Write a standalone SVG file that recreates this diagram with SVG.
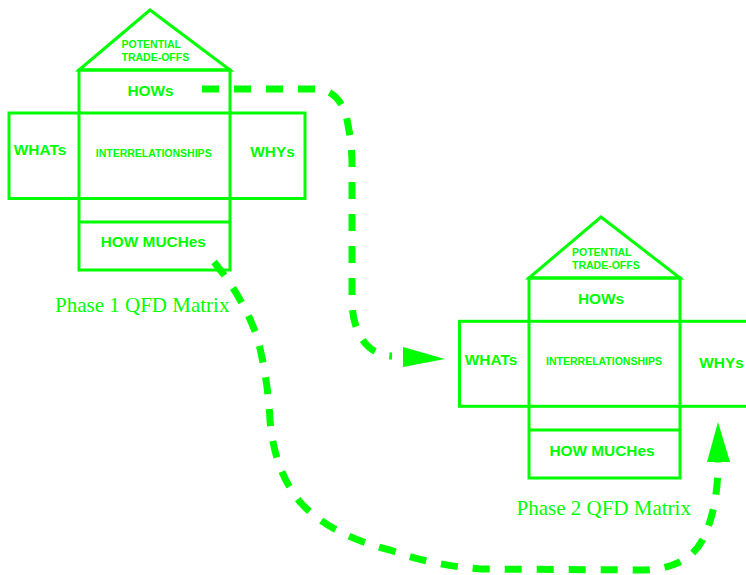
<svg xmlns="http://www.w3.org/2000/svg" width="746" height="575" viewBox="0 0 746 575">
<style>
.box{fill:none;stroke:#00ff00;stroke-width:3}
.t{font-family:"Liberation Sans",Arial,sans-serif;font-weight:bold;fill:#00ff00}
.big{font-size:15.4px;text-anchor:middle}
.sm{font-size:10.5px}
.cap{font-family:"Liberation Serif","Times New Roman",serif;font-size:21px;fill:#00ff00}
.conn{fill:none;stroke:#00ff00;stroke-width:7;stroke-dasharray:17 15}
.head{fill:#00ff00}
</style>
<rect width="746" height="575" fill="#ffffff"/>
<g id="phase1">
  <polygon class="box" points="79,70 150,10 230,70"/>
  <rect class="box" x="79" y="70" width="151" height="200"/>
  <rect class="box" x="9" y="113" width="296" height="85.5"/>
  <line class="box" x1="79" y1="222" x2="230" y2="222"/>
  <text class="t sm" x="121.5" y="47.7">POTENTIAL</text>
  <text class="t sm" x="121.5" y="60.7">TRADE-OFFS</text>
  <text class="t big" x="150.5" y="95.7">HOWs</text>
  <text class="t big" x="40" y="155">WHATs</text>
  <text class="t sm" x="153.7" y="156.7" text-anchor="middle">INTERRELATIONSHIPS</text>
  <text class="t big" x="272.5" y="156.5">WHYs</text>
  <text class="t big" x="153.3" y="247.3">HOW MUCHes</text>
  <text class="cap" x="55" y="311.7">Phase 1 QFD Matrix</text>
</g>
<g id="phase2">
  <polygon class="box" points="529,278 601,217 680,278"/>
  <rect class="box" x="529" y="278" width="151" height="200"/>
  <rect class="box" x="459.5" y="321.3" width="296" height="85"/>
  <line class="box" x1="529" y1="430" x2="680" y2="430"/>
  <text class="t sm" x="572" y="255.7">POTENTIAL</text>
  <text class="t sm" x="572" y="268.7">TRADE-OFFS</text>
  <text class="t big" x="601" y="303.8">HOWs</text>
  <text class="t big" x="491" y="365">WHATs</text>
  <text class="t sm" x="604" y="365" text-anchor="middle">INTERRELATIONSHIPS</text>
  <text class="t big" x="721.5" y="367.5">WHYs</text>
  <text class="t big" x="602" y="455.8">HOW MUCHes</text>
  <text class="cap" x="516.5" y="515">Phase 2 QFD Matrix</text>
</g>
<g id="connectors">
  <path class="conn" d="M202,89 H315 C335,89 345,105 348,125 Q352,145 352,165 V300 C352,330 365,355 392,356"/>
  <polygon class="head" points="403,347 403,367 445,359"/>
  <path class="conn" d="M214,262 Q245,300 258,340 Q268,380 270,420 Q274,470 300,502 Q330,535 390,550 Q430,565 480,569 L640,570 Q690,570 705,535 Q718,505 718,462"/>
  <polygon class="head" points="707,462 730,462 718,422"/>
</g>
</svg>
